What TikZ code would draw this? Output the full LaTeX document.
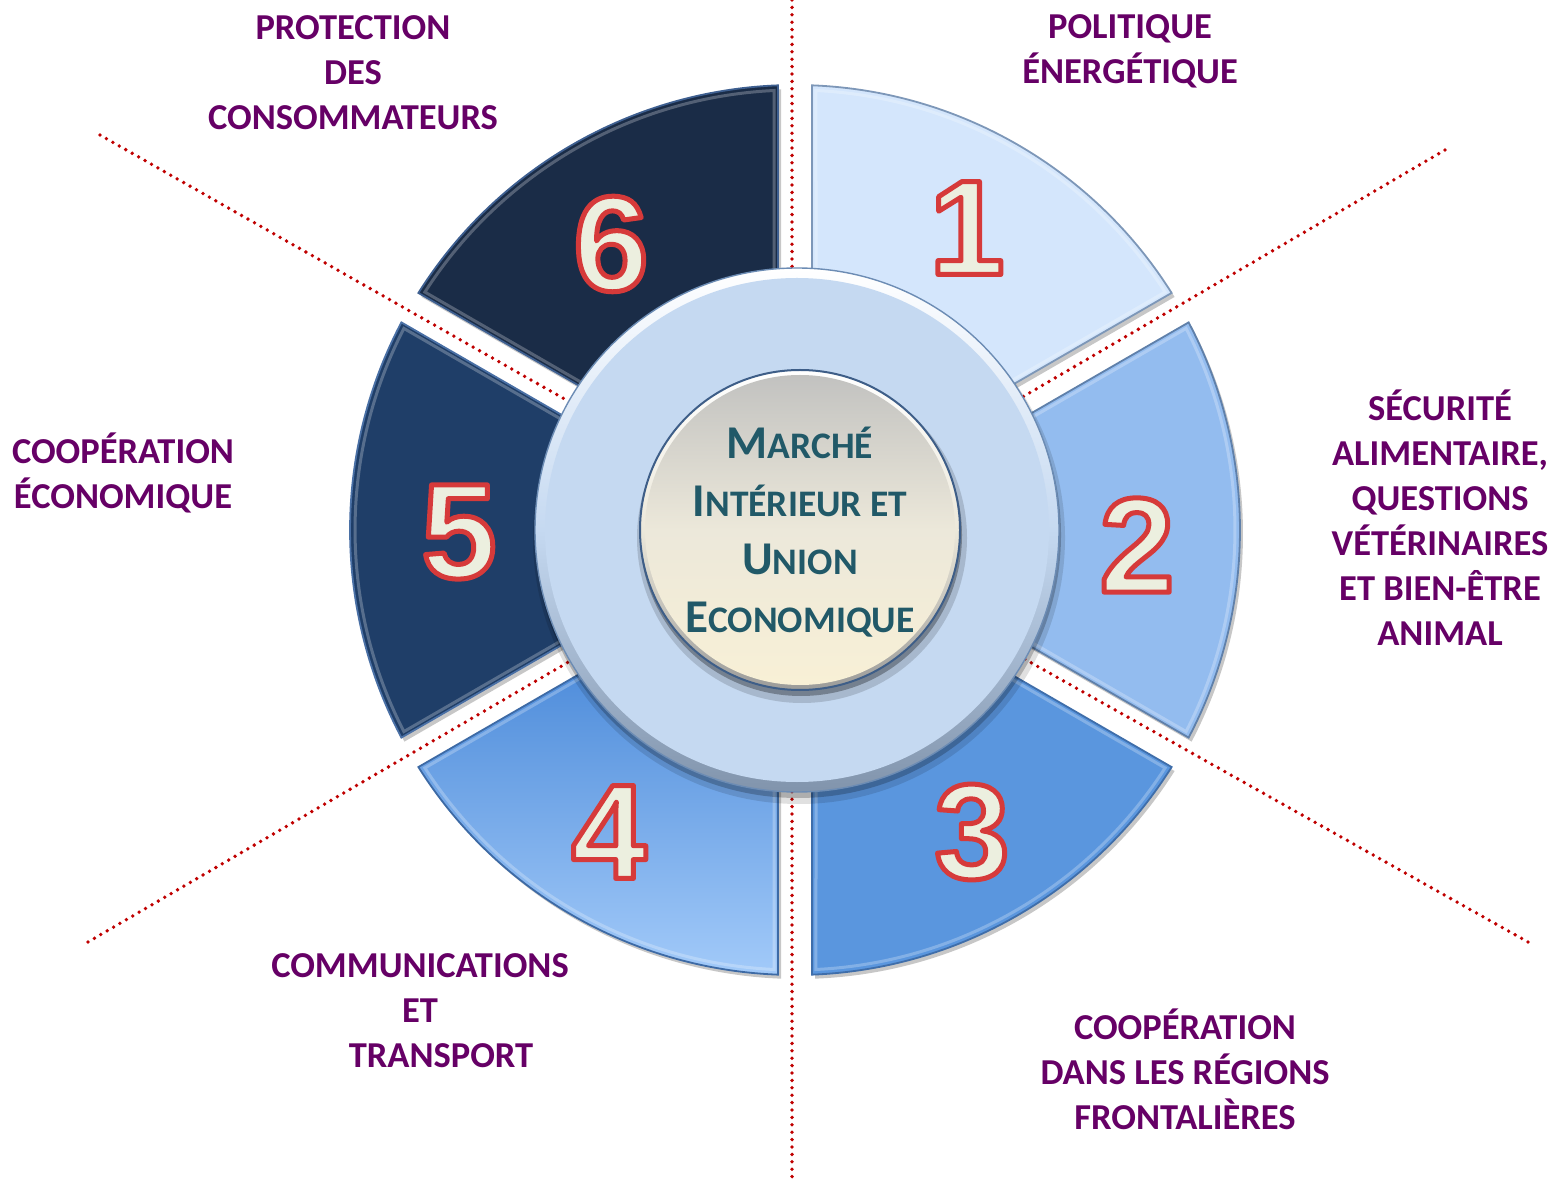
\documentclass[tikz,border=0pt]{standalone}
\usepackage{fontspec}
\setmainfont{Carlito}
\newfontfamily\numfont{Liberation Sans Bold}
\usetikzlibrary{calc}
\definecolor{lab}{HTML}{660066}
\definecolor{ctext}{HTML}{215968}
\definecolor{dotred}{HTML}{C00000}
\definecolor{numred}{HTML}{D63A3A}
\definecolor{numfill}{HTML}{ECEFDF}
\definecolor{sA}{HTML}{D4E6FC}
\definecolor{sB}{HTML}{93BCEF}
\definecolor{sC}{HTML}{5A96DE}
\definecolor{sDt}{HTML}{4E8CDA}
\definecolor{sDb}{HTML}{A2CAF9}
\definecolor{sE}{HTML}{1F3E68}
\definecolor{sF}{HTML}{1A2C47}
\definecolor{oA}{HTML}{7D97B8}
\definecolor{oB}{HTML}{5F80AA}
\definecolor{oC}{HTML}{3F6EAA}
\definecolor{oD}{HTML}{3D6AA5}
\definecolor{oE}{HTML}{4A70A5}
\definecolor{oF}{HTML}{3E5F90}
\definecolor{ringc}{HTML}{C5D9F1}
\definecolor{ringedge}{HTML}{6C8CB4}
\definecolor{ringdark}{HTML}{8194AC}
\definecolor{cedge}{HTML}{3E5E88}
\definecolor{ctop}{HTML}{C2C2C0}
\definecolor{cmid}{HTML}{ECE8DA}
\definecolor{cbot}{HTML}{F8F0D6}
% annular sector with parallel gaps: #1,#2 angles, #3 outer R, #4 inner r, #5 half gap
\newcommand\segpath[5]{({#1+asin(#5/#3)}:#3) arc[start angle={#1+asin(#5/#3)}, end angle={#2-asin(#5/#3)}, radius=#3] -- ({#2-asin(#5/#4)}:#4) arc[start angle={#2-asin(#5/#4)}, end angle={#1+asin(#5/#4)}, radius=#4] -- cycle}
\newcommand\BigL[1]{{\fontsize{47}{58}\selectfont #1}}
% outlined digit: fill + stroke text rendering mode
\newcommand\outl[1]{\special{pdf:literal direct 2 Tr 5 w 1 j 0.839 0.227 0.227 RG}#1\special{pdf:literal direct 0 Tr}}
\begin{document}
\begin{tikzpicture}[x=1pt,y=1pt,
  lbl/.style={font=\fontsize{36.5}{45}\selectfont\bfseries, text=lab, align=center, inner sep=0pt},
  numtxt/.style={font=\numfont\fontsize{135}{135}\selectfont, text=numfill, inner sep=0pt},
  dotline/.style={dotred, line width=3.8pt, line cap=round, dash pattern=on 0pt off 7.4pt},
  segshadow/.style={fill=black, opacity=.22}]
\useasboundingbox (0,0) rectangle (1562,1179);
\fill[white] (0,0) rectangle (1562,1179);

\coordinate (C) at (795,649);
\coordinate (Dtop) at (792,1179);
\coordinate (Dbot) at (792,0);
\coordinate (Dul) at (100,1044);
\coordinate (Dll) at (88,237);
\coordinate (Dur) at (1445,1029);
\coordinate (Dlr) at (1528,237);

\draw[dotline] (Dtop) -- (Dbot);
\draw[dotline] (Dul) -- (C);
\draw[dotline] (Dll) -- (C);
\draw[dotline] (Dur) -- (C);
\draw[dotline] (Dlr) -- (C);

\begin{scope}[shift={(C)}]
  % segments
  \foreach \a/\b/\col/\oc in {30/90/sA/oA, -30/30/sB/oB, -90/-30/sC/oC, 150/210/sE/oE, 90/150/sF/oF} {
    \fill[segshadow, shift={(3,-4)}] \segpath{\a}{\b}{445}{240}{17};
    \fill[\col] \segpath{\a}{\b}{445}{240}{17};
    \draw[white, opacity=.25, line width=3] \segpath{\a}{\b}{440}{240}{21};
    \draw[\oc, line width=1.8] \segpath{\a}{\b}{445}{240}{17};
  }
  \fill[segshadow, shift={(3,-4)}] \segpath{210}{270}{445}{240}{17};
  \shade[top color=sDt, bottom color=sDb] \segpath{210}{270}{445}{240}{17};
  \draw[white, opacity=.25, line width=3] \segpath{210}{270}{440}{240}{21};
  \draw[oD, line width=1.8] \segpath{210}{270}{445}{240}{17};

  % ring
  \fill[black, opacity=.12] (4,-8) circle[radius=266];
  \fill[black, opacity=.22] (3,-5) circle[radius=263];
  \shade[top color=white, bottom color=ringdark, middle color=ringc] (2,0) circle[radius=262];
  \fill[ringc] (2,0) circle[radius=252];
  \draw[ringedge, line width=1.4] (2,0) circle[radius=262];

  % center circle
  \fill[black, opacity=.15] (7,-8) circle[radius=165];
  \fill[black, opacity=.3] (6,-5) circle[radius=161];
  \shade[top color=white, bottom color=ctop!80!black, middle color=cmid] (5,0) circle[radius=160];
  \shade[top color=ctop, bottom color=cbot, middle color=cmid] (5,0) circle[radius=155];
  \draw[cedge, line width=2] (5,0) circle[radius=160];
\end{scope}

\node[font=\fontsize{37.5}{58}\selectfont\bfseries, text=ctext, align=center, inner sep=0pt] (ctr) at (800,647)
  {\BigL{M}ARCHÉ\\\BigL{I}NTÉRIEUR ET\\\BigL{U}NION\\\BigL{E}CONOMIQUE};

% numbers
\node[numtxt] (n1) at (967,951) {\outl{1}};
\node[numtxt] (n2) at (1137,634) {\outl{2}};
\node[numtxt] (n3) at (972,347) {\outl{3}};
\node[numtxt] (n4) at (609,347) {\outl{4}};
\node[numtxt] (n5) at (459,647) {\outl{5}};
\node[numtxt] (n6) at (611,935) {\outl{6}};

% labels
\node[lbl] (l6) at (353,1106) {PROTECTION\\DES\\CONSOMMATEURS};
\node[lbl] (l1) at (1130,1128) {POLITIQUE\\ÉNERGÉTIQUE};
\node[lbl] (l2) at (1440,661) {SÉCURITÉ\\ALIMENTAIRE,\\QUESTIONS\\VÉTÉRINAIRES\\ET BIEN-ÊTRE\\ANIMAL};
\node[lbl] (l5) at (123,706) {COOPÉRATION\\ÉCONOMIQUE};
\node[lbl] (l4) at (420,168) {COMMUNICATIONS\\ET\\\hspace*{42pt}TRANSPORT};
\node[lbl] (l3) at (1185,110) {COOPÉRATION\\DANS LES RÉGIONS\\FRONTALIÈRES};
\end{tikzpicture}
\end{document}
